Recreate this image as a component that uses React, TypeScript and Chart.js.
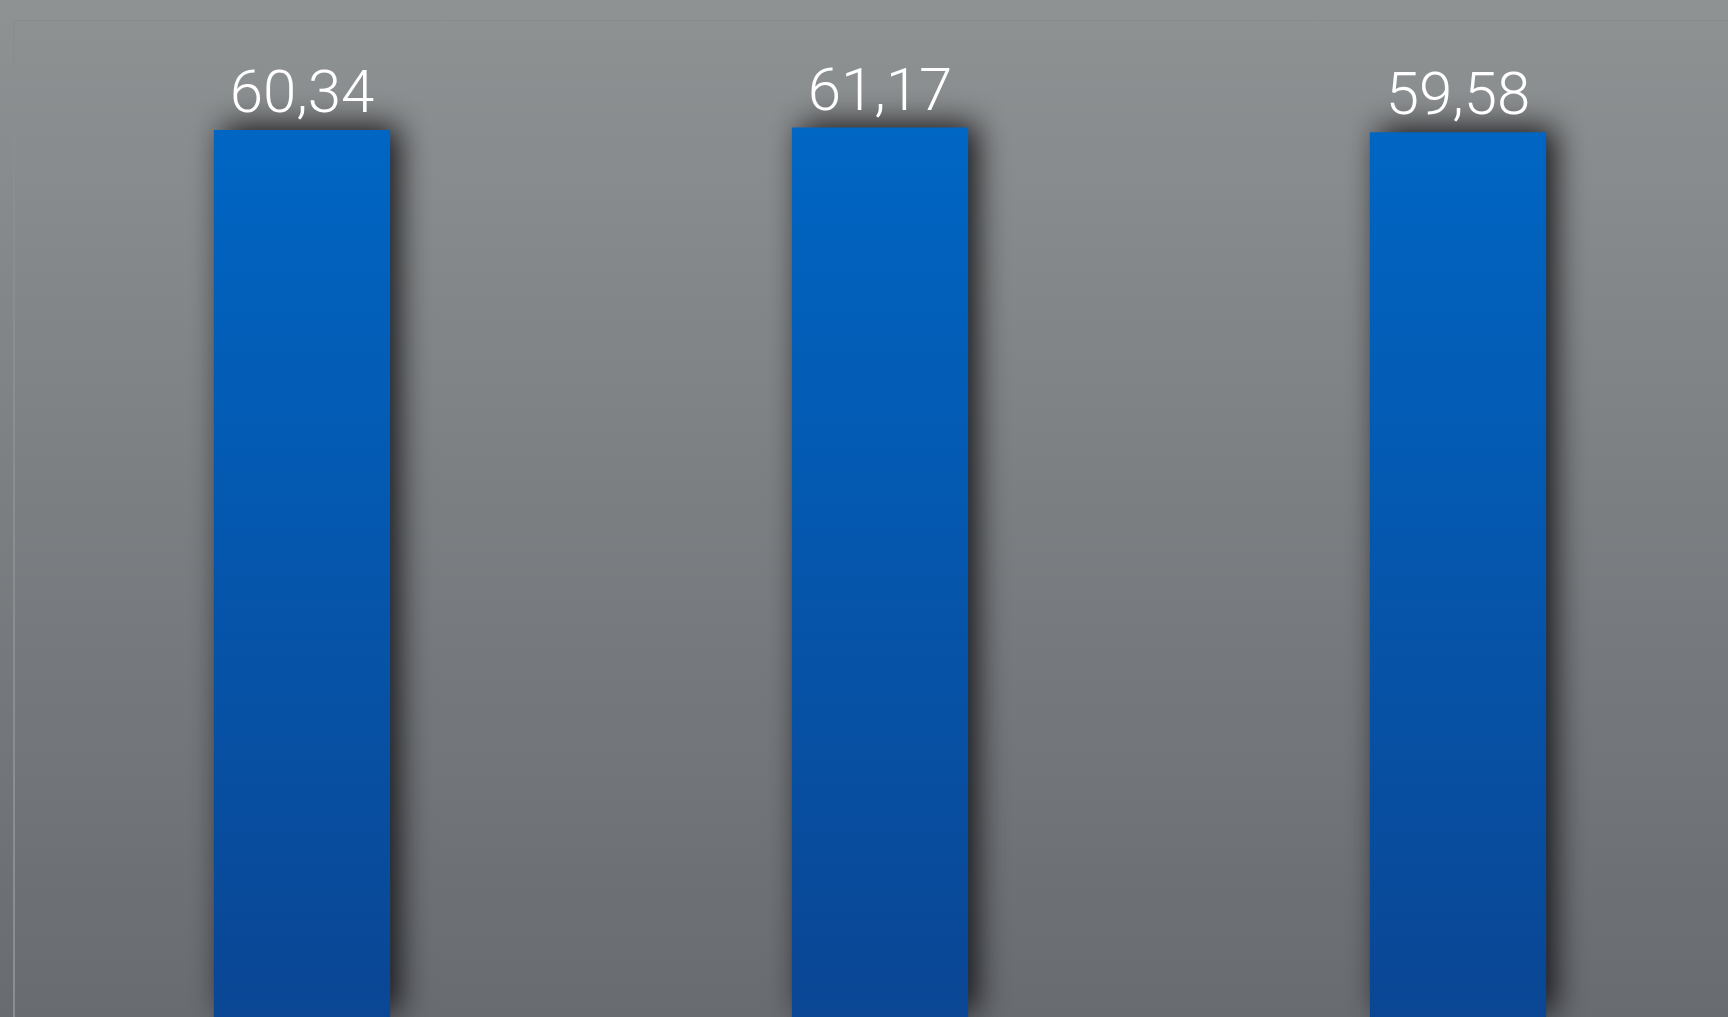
import React, { useEffect, useRef } from "react";
import { Chart, registerables } from "chart.js";

Chart.register(...registerables);

const categories = ["1", "2", "3"];
const values = [60.34, 61.17, 59.58];
const yMin = -235;
const yMax = 97;

const bgPlugin = {
  id: "bgPlugin",
  beforeDraw(chart: any) {
    const { ctx, width, height } = chart;
    const g = ctx.createLinearGradient(0, 0, 0, height);
    g.addColorStop(0, "rgb(143,146,147)");
    g.addColorStop(1, "rgb(104,107,112)");
    ctx.save();
    ctx.fillStyle = g;
    ctx.fillRect(0, 0, width, height);
    const a = chart.chartArea;
    ctx.strokeStyle = "rgba(138,137,136,0.7)";
    ctx.lineWidth = 1;
    ctx.beginPath();
    ctx.moveTo(a.left, a.top + 0.5);
    ctx.lineTo(a.right, a.top + 0.5);
    ctx.stroke();
    ctx.strokeStyle = "rgb(140,141,143)";
    ctx.lineWidth = 2;
    ctx.beginPath();
    ctx.moveTo(a.left + 1, a.top);
    ctx.lineTo(a.left + 1, height);
    ctx.stroke();
    ctx.restore();
  },
  beforeDatasetsDraw(chart: any) {
    const ctx = chart.ctx;
    ctx.save();
    ctx.shadowColor = "rgba(15,15,18,0.95)";
    ctx.shadowBlur = 30;
    ctx.shadowOffsetX = 9;
    ctx.shadowOffsetY = -4;
  },
  afterDatasetsDraw(chart: any) {
    const ctx = chart.ctx;
    ctx.restore();
    const meta = chart.getDatasetMeta(0);
    ctx.save();
    ctx.fillStyle = "#ffffff";
    ctx.font = "300 60px Roboto, 'Liberation Sans', sans-serif";
    ctx.textAlign = "center";
    ctx.textBaseline = "alphabetic";
    meta.data.forEach((bar: any, i: number) => {
      const label = values[i].toFixed(2).replace(".", ",");
      ctx.fillText(label, bar.x, bar.y - 18);
    });
    ctx.restore();
  },
};

export default function App() {
  const ref = useRef<HTMLCanvasElement | null>(null);
  useEffect(() => {
    const canvas = ref.current!;
    const ctx = canvas.getContext("2d")!;
    const grad = ctx.createLinearGradient(0, 120, 0, 1017);
    grad.addColorStop(0, "rgb(0,102,196)");
    grad.addColorStop(1, "rgb(10,70,148)");
    const chart = new Chart(canvas, {
      type: "bar",
      data: {
        labels: categories,
        datasets: [
          {
            data: values,
            base: yMin,
            backgroundColor: grad,
            borderWidth: 0,
            barPercentage: 0.305,
            categoryPercentage: 1,
          } as any,
        ],
      },
      options: {
        responsive: false,
        animation: false,
        layout: { padding: { left: 13, right: 3, top: 20, bottom: 0 } },
        plugins: { legend: { display: false }, tooltip: { enabled: false } },
        scales: {
          x: { display: false },
          y: { display: false, min: yMin, max: yMax },
        },
      },
      plugins: [bgPlugin],
    });
    return () => chart.destroy();
  }, []);
  return (
    <div
      style={{
        position: "fixed",
        left: 0,
        top: 0,
        width: "100vw",
        height: "100vh",
        overflow: "hidden",
      }}
    >
      <canvas
        ref={ref}
        width={1750}
        height={1017}
        style={{ display: "block", width: 1750, height: 1017 }}
      />
    </div>
  );
}
